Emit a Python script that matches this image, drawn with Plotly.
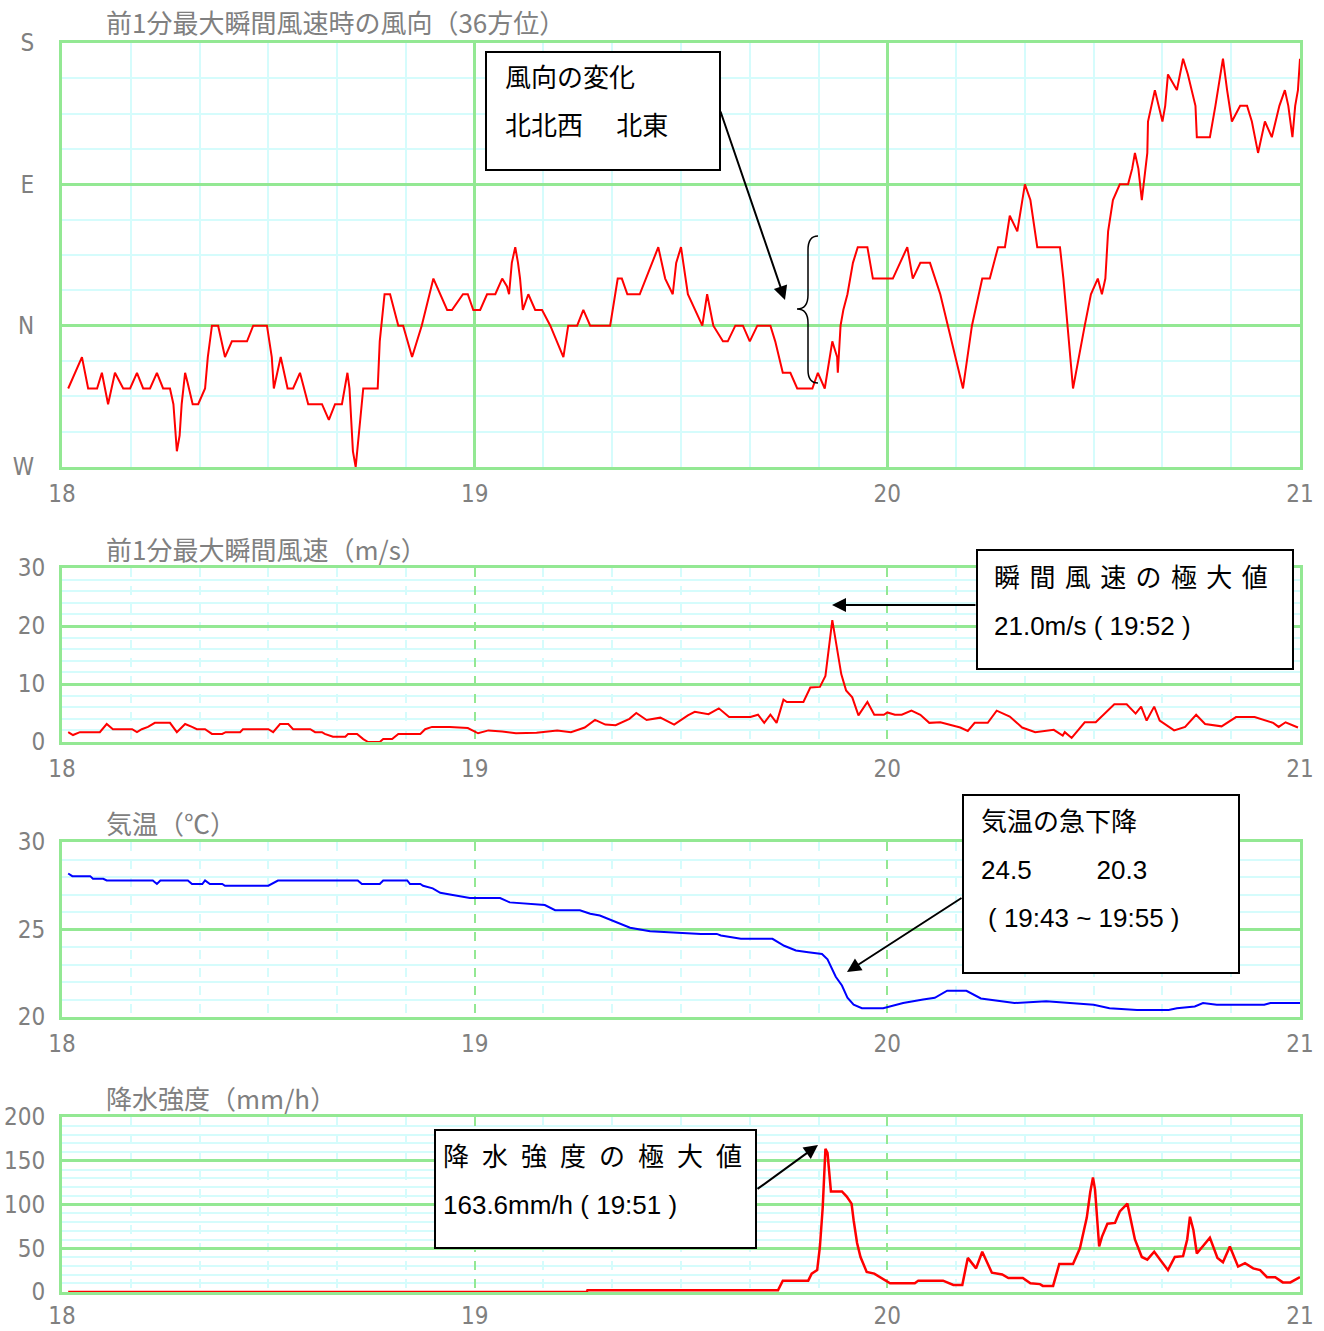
import plotly.graph_objects as go

W, H = 1324, 1331

# ---------------- data (minutes after 18:00) ----------------
x_ticks = [0, 60, 120, 180]
x_ticktext = ["18", "19", "20", "21"]

dir_ticks = [-90, 0, 90, 180]
dir_ticktext = ["W", "N", "E", "S"]

# wind direction (deg, N=0, E=90, S=180, W=-90)
dir_t = [0.9, 2.9, 3.8, 5.1, 5.8, 6.7, 7.7, 8.9, 9.9, 10.9, 11.8, 12.8, 13.8, 14.7, 15.7,
         16.2, 16.7, 17.1, 17.4, 17.9, 18.3, 19.0, 19.8, 20.8, 21.2, 21.8, 22.7, 23.7, 24.7,
         26.9, 27.8, 29.8, 30.5, 30.8, 31.8, 32.8, 33.6, 34.6, 35.8, 37.8, 38.8, 39.7, 40.7,
         41.5, 41.8, 42.3, 42.7, 43.1, 43.6, 43.8, 45.9, 46.2, 46.9, 47.7, 48.9, 49.6, 50.9,
         52.3, 54.0, 56.0, 56.7, 58.3, 59.0, 59.8, 60.8, 61.8, 63.0, 64.0, 64.7, 65.0, 65.4,
         65.9, 66.3, 66.6, 67.0, 67.8, 68.8, 69.8, 71.0, 72.9, 73.6, 74.9, 75.8, 76.8, 78.2,
         79.7, 80.8, 81.4, 82.2, 84.0, 86.7, 87.7, 88.8, 89.3, 90.0, 91.0, 93.1, 93.8, 94.7,
         96.1, 96.8, 97.9, 99.0, 100.0, 101.1, 103.0, 103.7, 104.8, 105.9, 106.9, 109.1, 109.9,
         110.9, 112.0, 112.7, 112.8, 113.2, 113.6, 114.2, 115.0, 115.7, 117.1, 117.9, 120.8,
         122.9, 123.7, 124.8, 126.2, 127.7, 128.8, 131.0, 132.3, 133.8, 134.9, 136.1, 137.1,
         137.8, 138.9, 140.0, 140.8, 141.8, 145.1, 145.6, 147.0, 147.8, 148.7, 149.6, 150.6,
         151.2, 151.7, 152.1, 152.8, 153.8, 155.0, 155.6, 156.0, 156.5, 157.0, 157.8, 157.9,
         158.9, 160.0, 160.4, 160.8, 162.1, 162.6, 163.0, 163.7, 164.3, 164.8, 165.0, 166.9,
         167.7, 168.4, 168.8, 169.4, 170.1, 171.3, 172.3, 173.0, 173.9, 174.9, 175.9, 177.0,
         177.8, 178.3, 178.9, 179.3, 179.7, 180.0]
dir_v = [-40, -20, -40, -40, -30, -50, -30, -40, -40, -30, -40, -40, -30, -40, -40,
         -50, -80, -70, -50, -30, -37, -50, -50, -40, -20, 0, 0, -20, -10,
         -10, 0, 0, -20, -40, -20, -40, -40, -30, -50, -50, -60, -50, -50,
         -30, -40, -80, -90, -70, -50, -40, -40, -10, 20, 20, 0, 0, -20,
         0, 30, 10, 10, 20, 20, 10, 10, 20, 20, 30, 25, 20, 40,
         50, 40, 30, 10, 20, 10, 10, 0, -20, 0, 0, 10, 0, 0,
         0, 30, 30, 20, 20, 50, 30, 20, 40, 50, 20, 0, 20, 0,
         -10, -10, 0, 0, -10, 0, 0, -10, -30, -30, -40, -40, -30,
         -40, -10, -20, -30, 0, 10, 20, 40, 50, 50, 30, 30,
         50, 30, 40, 40, 20, 0, -40, 0, 30, 30, 50, 50,
         70, 60, 90, 80, 50, 50, 30, -40, -20, 0, 20, 30,
         20, 30, 60, 80, 90, 90, 100, 110, 100, 80, 110, 130,
         150, 130, 140, 160, 150, 160, 170, 160, 150, 140, 120, 120,
         140, 160, 170, 150, 130, 140, 140, 130, 110, 130, 120, 140,
         150, 140, 120, 140, 150, 170]

# max instantaneous wind speed (m/s)
ws_t = [0.9, 1.6, 2.6, 5.5, 6.5, 7.4, 10.2, 10.9, 11.6, 12.5, 13.5, 15.7, 16.7, 17.9, 18.9,
        19.6, 20.8, 21.8, 23.3, 23.8, 25.9, 26.3, 30.0, 30.7, 31.7, 32.9, 33.6, 36.1, 36.8,
        37.8, 38.2, 39.4, 41.2, 41.6, 42.9, 43.8, 44.5, 46.2, 46.7, 48.0, 48.9, 52.1, 52.8,
        53.8, 56.4, 59.0, 60.5, 62.0, 64.0, 66.0, 69.0, 72.0, 74.0, 76.0, 77.5, 79.0, 80.5,
        82.5, 83.5, 85.0, 87.0, 89.0, 91.0, 92.0, 94.0, 95.5, 97.0, 98.5, 100.1, 101.2, 102.1,
        103.0, 103.9, 104.9, 105.4, 107.8, 108.8, 110.2, 111.0, 112.0, 112.7, 113.3, 114.0,
        114.9, 115.8, 117.1, 118.1, 119.5, 120.0, 121.1, 122.1, 123.5, 124.8, 126.1, 127.7,
        130.6, 131.7, 132.7, 134.6, 135.9, 137.8, 139.6, 141.5, 144.2, 145.5, 145.8, 146.8,
        148.7, 150.3, 151.1, 153.0, 154.8, 156.1, 156.9, 157.7, 158.8, 159.6, 161.7, 163.3,
        164.9, 166.2, 168.6, 170.7, 173.4, 176.1, 176.9, 177.9, 179.7]
ws_v = [1.7, 1.2, 1.7, 1.7, 3.1, 2.2, 2.2, 1.7, 2.2, 2.6, 3.3, 3.3, 1.7, 3.1, 2.6,
        2.2, 2.2, 1.4, 1.4, 1.7, 1.7, 2.2, 2.2, 1.7, 3.1, 3.1, 2.2, 2.2, 1.7,
        1.7, 1.4, 0.9, 0.9, 1.4, 1.4, 0.5, 0.0, 0.0, 0.5, 0.5, 1.4, 1.4, 2.2,
        2.6, 2.6, 2.4, 1.5, 2.0, 1.8, 1.5, 1.6, 2.0, 1.7, 2.5, 3.8, 3.0, 2.9,
        4.0, 5.0, 3.8, 4.2, 3.0, 4.6, 5.2, 4.8, 5.8, 4.3, 4.3, 4.3, 4.7, 3.3,
        4.7, 3.3, 7.3, 6.9, 6.9, 9.4, 9.5, 11.4, 21.0, 15.7, 11.7, 8.9,
        7.7, 4.6, 6.9, 4.7, 4.7, 5.1, 4.7, 4.7, 5.4, 4.7, 3.3, 3.4,
        2.5, 1.9, 3.3, 3.3, 5.4, 4.4, 2.5, 1.7, 2.1, 1.1, 1.7, 0.7,
        3.4, 3.4, 4.3, 6.5, 6.5, 4.9, 6.1, 3.7, 6.1, 3.7, 2.0, 2.6,
        4.7, 3.1, 2.7, 4.3, 4.3, 3.3, 2.6, 3.4, 2.5]

# air temperature (deg C)
tp_t = [0.9, 1.5, 4.1, 4.5, 6.0, 6.5, 13.2, 13.8, 14.3, 18.3, 18.9, 20.4, 20.8, 21.5, 23.3,
        23.7, 30.0, 30.5, 31.4, 43.0, 43.6, 46.2, 46.7, 50.2, 50.6, 52.1, 52.5, 53.9, 55.0,
        56.4, 59.3, 63.7, 65.1, 70.2, 71.7, 75.3, 76.8, 78.2, 82.6, 85.5, 89.9, 92.9, 95.2,
        95.8, 98.7, 103.3, 105.0, 106.7, 108.5, 110.5, 111.3, 112.5, 113.4, 114.2, 115.1,
        116.3, 119.4, 120.3, 122.3, 125.2, 126.9, 128.7, 131.5, 133.6, 136.7, 138.5, 143.1,
        147.1, 150.0, 152.3, 156.3, 160.9, 162.1, 164.7, 165.9, 167.9, 174.8, 175.7, 180.0]
tp_v = [28.2, 28.05, 28.05, 27.9, 27.9, 27.8, 27.8, 27.6, 27.8, 27.8, 27.6, 27.6, 27.8, 27.6, 27.6,
        27.5, 27.5, 27.6, 27.8, 27.8, 27.6, 27.6, 27.8, 27.8, 27.6, 27.6, 27.5, 27.35, 27.1,
        27.0, 26.8, 26.8, 26.55, 26.4, 26.1, 26.1, 25.9, 25.8, 25.1, 24.9, 24.8, 24.75, 24.75,
        24.66, 24.47, 24.47, 24.07, 23.8, 23.7, 23.6, 23.3, 22.3, 21.8, 21.1, 20.7,
        20.5, 20.5, 20.6, 20.8, 21.0, 21.1, 21.5, 21.5, 21.06, 20.9, 20.8, 20.9,
        20.8, 20.7, 20.5, 20.4, 20.4, 20.5, 20.6, 20.8, 20.7, 20.7, 20.8, 20.8]

# precipitation intensity (mm/h)
pr_t = [0.9, 76.3, 76.4, 104.1, 104.8, 108.5, 109.0, 109.8, 110.2, 110.6, 111.0, 111.3, 111.8,
        113.4, 114.1, 114.8, 115.1, 115.6, 116.1, 117.0, 118.1, 118.9, 120.4, 124.0, 124.5,
        128.1, 129.6, 130.9, 131.7, 132.9, 133.8, 135.2, 136.7, 137.6, 139.7, 140.8, 142.2,
        142.6, 144.1, 145.0, 147.0, 148.0, 149.0, 149.5, 149.9, 150.2, 150.8, 151.2, 152.0,
        153.1, 153.8, 154.9, 156.0, 157.0, 157.8, 158.8, 159.9, 160.8, 161.8, 163.0, 163.6,
        164.0, 164.5, 165.0, 166.9, 168.0, 168.8, 169.8, 171.0, 172.0, 173.2, 174.2, 175.2,
        176.4, 177.5, 178.6, 180.0]
pr_v = [0, 0, 2, 2, 13, 13, 21, 25, 52, 96, 163.6, 159, 115,
        115, 109, 101, 82, 56, 40, 23, 21, 17, 10, 10, 13,
        13, 8, 8, 39, 27, 46, 22, 20, 16, 16, 10, 9,
        7, 7, 32, 32, 50, 85, 114, 131, 117, 52, 63, 78,
        79, 92, 101, 60, 40, 37, 46, 34, 25, 40, 41, 60,
        86, 71, 44, 62, 39, 34, 52, 29, 33, 27, 25, 17,
        17, 11, 11, 17]

titles = ["前1分最大瞬間風速時の風向（36方位）", "前1分最大瞬間風速（m/s）", "気温（℃）", "降水強度（mm/h）"]

# ---------------- styling ----------------
GREEN = "#93E893"
CYAN = "#D5FCFC"
GRAY = "#808080"
TICKFONT = dict(family="DejaVu Sans Condensed, Liberation Sans Narrow, Liberation Sans, sans-serif", size=24, color=GRAY)
CJK = "Noto Sans CJK JP"
BOXFONT = dict(family="Liberation Sans, Noto Sans CJK JP", size=26, color="black")


def px(x, y):
    return x / W, 1 - y / H

# panel pixel boxes: (top, bottom)
panels = [(43, 467), (568, 742), (842, 1017), (1117, 1292)]
x_left, x_right = 62, 1300

fig = go.Figure()
fig.add_trace(go.Scatter(x=dir_t, y=dir_v, mode="lines", line=dict(color="#ff0000", width=2), xaxis="x", yaxis="y"))
fig.add_trace(go.Scatter(x=ws_t, y=ws_v, mode="lines", line=dict(color="#ff0000", width=2), xaxis="x2", yaxis="y2"))
fig.add_trace(go.Scatter(x=tp_t, y=tp_v, mode="lines", line=dict(color="#0000ff", width=2), xaxis="x3", yaxis="y3"))
fig.add_trace(go.Scatter(x=pr_t, y=pr_v, mode="lines", line=dict(color="#ff0000", width=2.5), xaxis="x4", yaxis="y4"))

yspecs = [
    dict(range=[-90, 180], tickvals=dir_ticks, ticktext=dir_ticktext, minor_dtick=22.5, tick0=-90, standoff=20),
    dict(range=[0, 30], tickvals=[0, 10, 20, 30], ticktext=None, minor_dtick=2, tick0=0, standoff=9),
    dict(range=[20, 30], tickvals=[20, 25, 30], ticktext=None, minor_dtick=1, tick0=20, standoff=9),
    dict(range=[0, 200], tickvals=[0, 50, 100, 150, 200], ticktext=None, minor_dtick=10, tick0=0, standoff=9),
]
x_standoff = [3, 3, 3, 0]

layout = dict(width=W, height=H, margin=dict(l=0, r=0, t=0, b=0, pad=0, autoexpand=False), showlegend=False,
              plot_bgcolor="white", paper_bgcolor="white")

for i, ((top, bot), ys) in enumerate(zip(panels, yspecs)):
    sfx = "" if i == 0 else str(i + 1)
    ydom = [1 - bot / H, 1 - top / H]
    xa = dict(domain=[x_left / W, x_right / W], anchor="y" + sfx, range=[0, 180],
              tickmode="array", tickvals=x_ticks, ticktext=x_ticktext,
              showgrid=True, gridcolor=GREEN, gridwidth=3 if i == 0 else 2,
              griddash="solid" if i == 0 else "dash",
              minor=dict(tickmode="linear", tick0=0, dtick=10, showgrid=True, gridcolor=CYAN, gridwidth=2),
              showline=True, mirror=True, linecolor=GREEN, linewidth=3, automargin=False,
              ticks="", zeroline=False, tickfont=TICKFONT, ticklabelstandoff=x_standoff[i], fixedrange=True)
    ya = dict(domain=ydom, anchor="x" + sfx, range=ys["range"], tickmode="array", tickvals=ys["tickvals"],
              showgrid=True, gridcolor=GREEN, gridwidth=3, automargin=False,
              minor=dict(tickmode="linear", tick0=ys["tick0"], dtick=ys["minor_dtick"], showgrid=True,
                         gridcolor=CYAN, gridwidth=2),
              showline=True, mirror=True, linecolor=GREEN, linewidth=3,
              ticks="", zeroline=False, tickfont=TICKFONT, ticklabelstandoff=ys["standoff"], fixedrange=True)
    if ys["ticktext"] is not None:
        ya["ticktext"] = ys["ticktext"]
    layout["xaxis" + sfx] = xa
    layout["yaxis" + sfx] = ya

fig.update_layout(**layout)

# titles
title_y = [22, 548, 822, 1097]
for t, ty in zip(titles, title_y):
    x0, y0 = px(104, ty)
    fig.add_annotation(x=x0, y=y0, xref="paper", yref="paper", text=t, showarrow=False,
                       xanchor="left", yanchor="middle", font=dict(family=CJK, size=26, color=GRAY))

# annotation boxes
boxes = [(486, 52, 720, 170), (977, 550, 1293, 669), (963, 795, 1239, 973), (435, 1130, 756, 1248)]
for (bx0, by0, bx1, by1) in boxes:
    a, b = px(bx0, by1)
    c, d = px(bx1, by0)
    fig.add_shape(type="rect", xref="paper", yref="paper", x0=a, y0=b, x1=c, y1=d,
                  line=dict(color="black", width=2), fillcolor="white", layer="above")

NB = "\u00a0"
texts = [
    (503, 78, "風向の変化"), (503, 126, "北北西\u3000" + NB + "北東"),
    (992, 578, (NB + "\u200a").join("瞬間風速の極大値")), (992, 626, "21.0m/s" + NB + "(" + NB + "19:52" + NB + ")"),
    (979, 822, "気温の急下降"), (979, 870, "24.5" + NB * 9 + "20.3"), (986, 918, "(" + NB + "19:43 ~ 19:55" + NB + ")"),
    (441, 1157, "\u2002".join("降水強度の極大値")), (441, 1205, "163.6mm/h" + NB + "(" + NB + "19:51" + NB + ")"),
]
for tx, ty, t in texts:
    x0, y0 = px(tx, ty)
    fig.add_annotation(x=x0, y=y0, xref="paper", yref="paper", text=t, showarrow=False,
                       xanchor="left", yanchor="middle", font=BOXFONT)

# arrows: (tail, head) in pixels
arrows = [((720, 110), (785, 300)), ((977, 605), (832, 605)), ((963, 897), (847, 972)), ((756, 1190), (818, 1145))]
for (tx, ty), (hx, hy) in arrows:
    x0, y0 = px(hx, hy)
    fig.add_annotation(x=x0, y=y0, xref="paper", yref="paper", ax=tx - hx, ay=ty - hy, text="",
                       showarrow=True, arrowhead=2, arrowsize=1.4, arrowwidth=2, arrowcolor="black")

# curly brace
pts = [(818, 236), (808, 236), (808, 250), (808, 295), (808, 309), (797, 309), (808, 309), (808, 323),
       (808, 370), (808, 383), (818, 383)]
P = [px(x, y) for x, y in pts]
path = ("M {0[0]},{0[1]} Q {1[0]},{1[1]} {2[0]},{2[1]} L {3[0]},{3[1]} Q {4[0]},{4[1]} {5[0]},{5[1]} "
        "Q {6[0]},{6[1]} {7[0]},{7[1]} L {8[0]},{8[1]} Q {9[0]},{9[1]} {10[0]},{10[1]}").format(*P)
fig.add_shape(type="path", xref="paper", yref="paper", path=path, line=dict(color="black", width=1.5))

fig.write_html("out.html", config={"displayModeBar": False},
               post_script="document.body.style.margin='0px';document.body.style.padding='0px';"
                           "document.body.style.overflow='hidden';")
